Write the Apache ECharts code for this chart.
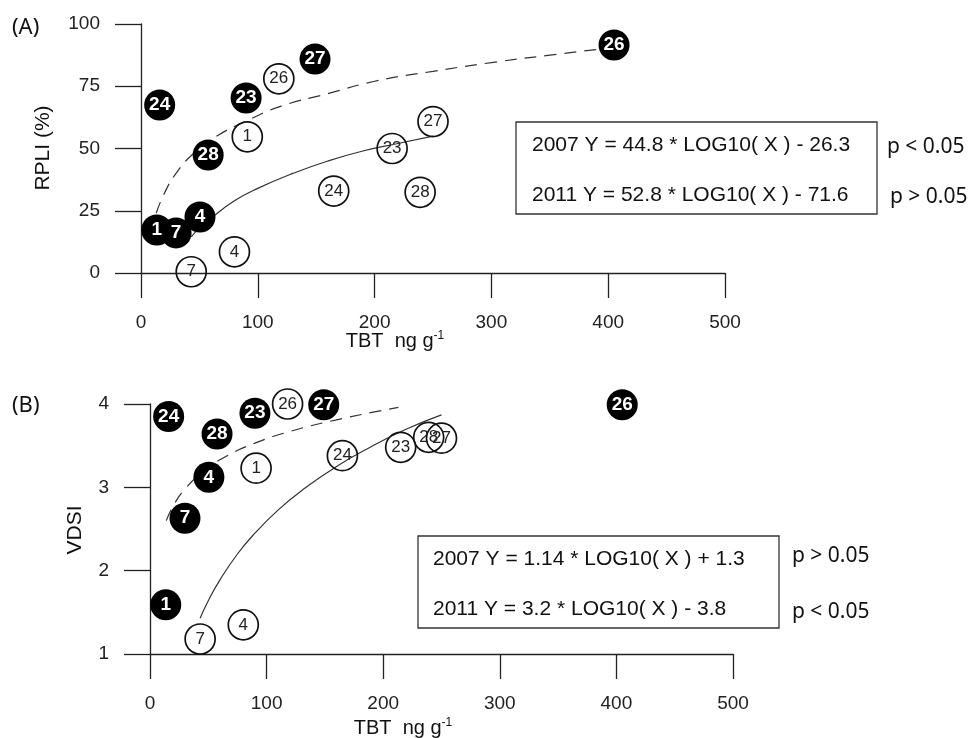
<!DOCTYPE html>
<html>
<head>
<meta charset="utf-8">
<script src="https://cdn.jsdelivr.net/npm/echarts@6/dist/echarts.min.js"></script>
<style>
html,body{margin:0;padding:0;background:#fff;}
#chart{width:970px;height:738px;}
</style>
</head>
<body>
<div id="chart"></div>
<script>
// ---- Data ----
// Sites (draw order)
const sites2007 = ['1', '24', '7', '4', '28', '23', '27', '26'];
const tbt2007   = [13.5, 16, 30, 50.5, 57.5, 90, 149, 405];
const rpli2007  = [17.3, 67.5, 16.1, 22.5, 47.4, 70.3, 85.9, 91.6];
const vdsi2007  = [1.59, 3.85, 2.63, 3.12, 3.64, 3.89, 3.99, 3.99];

const sites2011 = ['7', '4', '1', '26', '24', '23', '28', '27'];
const tbt2011   = [43, 80, 91, 118, 165, 215, 239, 250];
const rpli2011  = [0.5, 8.5, 54.7, 78, 32.9, 50, 32.4, 60.8];
const vdsi2011  = [1.18, 1.35, 3.23, 4.0, 3.38, 3.48, 3.6, 3.59];

// Fitted curves
const fitA2007X = [13, 20, 30, 45, 65, 90, 120, 160, 200, 250, 300, 350, 400];
const fitA2007Y = [24, 32, 40, 48, 55, 61, 67, 72, 77, 81, 84.5, 87.5, 90.3];
const fitA2011X = [43, 50, 60, 80, 100, 130, 160, 190, 220, 250];
const fitA2011Y = [14.5, 18, 22, 29, 34, 40, 45, 49, 52, 55];
const fitB2007X = [14, 20, 30, 45, 65, 90, 120, 160, 213];
const fitB2007Y = [2.6, 2.78, 2.98, 3.18, 3.37, 3.53, 3.67, 3.81, 3.96];
const fitB2011X = [43, 50, 60, 75, 90, 110, 130, 160, 190, 220, 250];
const fitB2011Y = [1.43, 1.64, 1.89, 2.2, 2.45, 2.73, 2.96, 3.25, 3.49, 3.7, 3.87];

const eqA = ['2007 Y = 44.8 * LOG10( X ) - 26.3', '2011 Y = 52.8 * LOG10( X ) - 71.6'];
const pA  = ['p < 0.05', 'p > 0.05'];
const eqB = ['2007 Y = 1.14 * LOG10( X ) + 1.3', '2011 Y = 3.2 * LOG10( X ) - 3.8'];
const pB  = ['p > 0.05', 'p < 0.05'];

// ---- Build ----
const zip = (xs, ys) => xs.map((x, i) => [x, ys[i]]);
const pts = (xs, ys, names) => xs.map((x, i) => ({ value: [x, ys[i]], name: names[i] }));

const FONT = '"Liberation Sans", Arial, sans-serif';
const PFONT = '"Noto Sans", sans-serif';
const AX = '#222';

function xAxis(gi) {
  return {
    gridIndex: gi, type: 'value', min: 0, max: 500, interval: 100,
    axisLine: { show: true, onZero: false, lineStyle: { color: AX, width: 1.3 } },
    axisTick: { show: true, length: 25, lineStyle: { color: AX, width: 1.3 } },
    axisLabel: { margin: 40, fontSize: 19, color: '#222', fontFamily: FONT },
    splitLine: { show: false }
  };
}
function yAxis(gi, min, max, interval) {
  return {
    gridIndex: gi, type: 'value', min: min, max: max, interval: interval,
    axisLine: { show: true, onZero: false, lineStyle: { color: AX, width: 1.3 } },
    axisTick: { show: true, length: 26, lineStyle: { color: AX, width: 1.3 } },
    axisLabel: { margin: 41, fontSize: 19, color: '#222', fontFamily: FONT },
    splitLine: { show: false }
  };
}

function filled(gi, data) {
  return {
    type: 'scatter', xAxisIndex: gi, yAxisIndex: gi, data: data, symbolSize: 31, z: 5,
    itemStyle: { color: '#000', opacity: 1 },
    label: { show: true, position: 'inside', formatter: p => p.name, color: '#fff',
             fontSize: 19, fontWeight: 'bold', fontFamily: FONT }
  };
}
function open(gi, data) {
  return {
    type: 'scatter', xAxisIndex: gi, yAxisIndex: gi, data: data, symbolSize: 30, z: 4,
    itemStyle: { color: 'rgba(0,0,0,0)', borderColor: '#111', borderWidth: 1.7, opacity: 1 },
    label: { show: true, position: 'inside', formatter: p => p.name, color: '#222',
             fontSize: 17, fontFamily: FONT }
  };
}
function curve(gi, data, dashed) {
  return {
    type: 'line', xAxisIndex: gi, yAxisIndex: gi, data: data, showSymbol: false, symbol: 'none',
    smooth: true, z: 2, silent: true,
    lineStyle: { color: '#333', width: 1.2, type: dashed ? [12, 8] : 'solid' }
  };
}

function textG(x, y, text, opts) {
  return {
    type: 'text', x: x, y: y,
    style: Object.assign({ text: text, fill: '#111', font: '21px ' + FONT, textAlign: 'left', textVerticalAlign: 'middle' }, opts || {})
  };
}

const supRich = { s: { fontSize: 12, fontFamily: FONT, fill: '#111', verticalAlign: 'top', padding: [0, 0, 10, 0] },
                  m: { fontSize: 20, fontFamily: FONT, fill: '#111' } };

const graphic = [
  textG(12, 28, '(A)', { font: '22px ' + PFONT }),
  textG(12, 406, '(B)', { font: '22px ' + PFONT }),
  { type: 'text', x: 43, y: 148, rotation: Math.PI / 2,
    style: { text: 'RPLI (%)', fill: '#111', font: '21px ' + FONT, textAlign: 'center', textVerticalAlign: 'middle' } },
  { type: 'text', x: 75, y: 530, rotation: Math.PI / 2,
    style: { text: 'VDSI', fill: '#111', font: '21px ' + FONT, textAlign: 'center', textVerticalAlign: 'middle' } },
  { type: 'text', x: 395, y: 341,
    style: { text: '{m|TBT  ng g}{s|-1}', rich: supRich, textAlign: 'center', textVerticalAlign: 'middle' } },
  { type: 'text', x: 403, y: 728,
    style: { text: '{m|TBT  ng g}{s|-1}', rich: supRich, textAlign: 'center', textVerticalAlign: 'middle' } },
  { type: 'rect', shape: { x: 516, y: 122, width: 361, height: 92 }, style: { fill: 'none', stroke: '#333', lineWidth: 1.3 } },
  textG(532, 145, eqA[0]),
  textG(532, 195, eqA[1]),
  textG(887, 147, pA[0], { font: '21px ' + PFONT }),
  textG(890, 197, pA[1], { font: '21px ' + PFONT }),
  { type: 'rect', shape: { x: 418, y: 536, width: 361, height: 92 }, style: { fill: 'none', stroke: '#333', lineWidth: 1.3 } },
  textG(433, 559, eqB[0]),
  textG(433, 609, eqB[1]),
  textG(792, 556, pB[0], { font: '21px ' + PFONT }),
  textG(792, 612, pB[1], { font: '21px ' + PFONT })
];

const chart = echarts.init(document.getElementById('chart'), null, { renderer: 'canvas' });
chart.setOption({
  backgroundColor: '#fff',
  animation: false,
  grid: [
    { left: 141, top: 24, width: 584, height: 249 },
    { left: 150, top: 404, width: 583, height: 250 }
  ],
  xAxis: [xAxis(0), xAxis(1)],
  yAxis: [yAxis(0, 0, 100, 25), yAxis(1, 1, 4, 1)],
  series: [
    curve(0, zip(fitA2007X, fitA2007Y), true),
    curve(0, zip(fitA2011X, fitA2011Y), false),
    open(0, pts(tbt2011, rpli2011, sites2011)),
    filled(0, pts(tbt2007, rpli2007, sites2007)),
    curve(1, zip(fitB2007X, fitB2007Y), true),
    curve(1, zip(fitB2011X, fitB2011Y), false),
    open(1, pts(tbt2011, vdsi2011, sites2011)),
    filled(1, pts(tbt2007, vdsi2007, sites2007))
  ],
  graphic: graphic
});
</script>
</body>
</html>
